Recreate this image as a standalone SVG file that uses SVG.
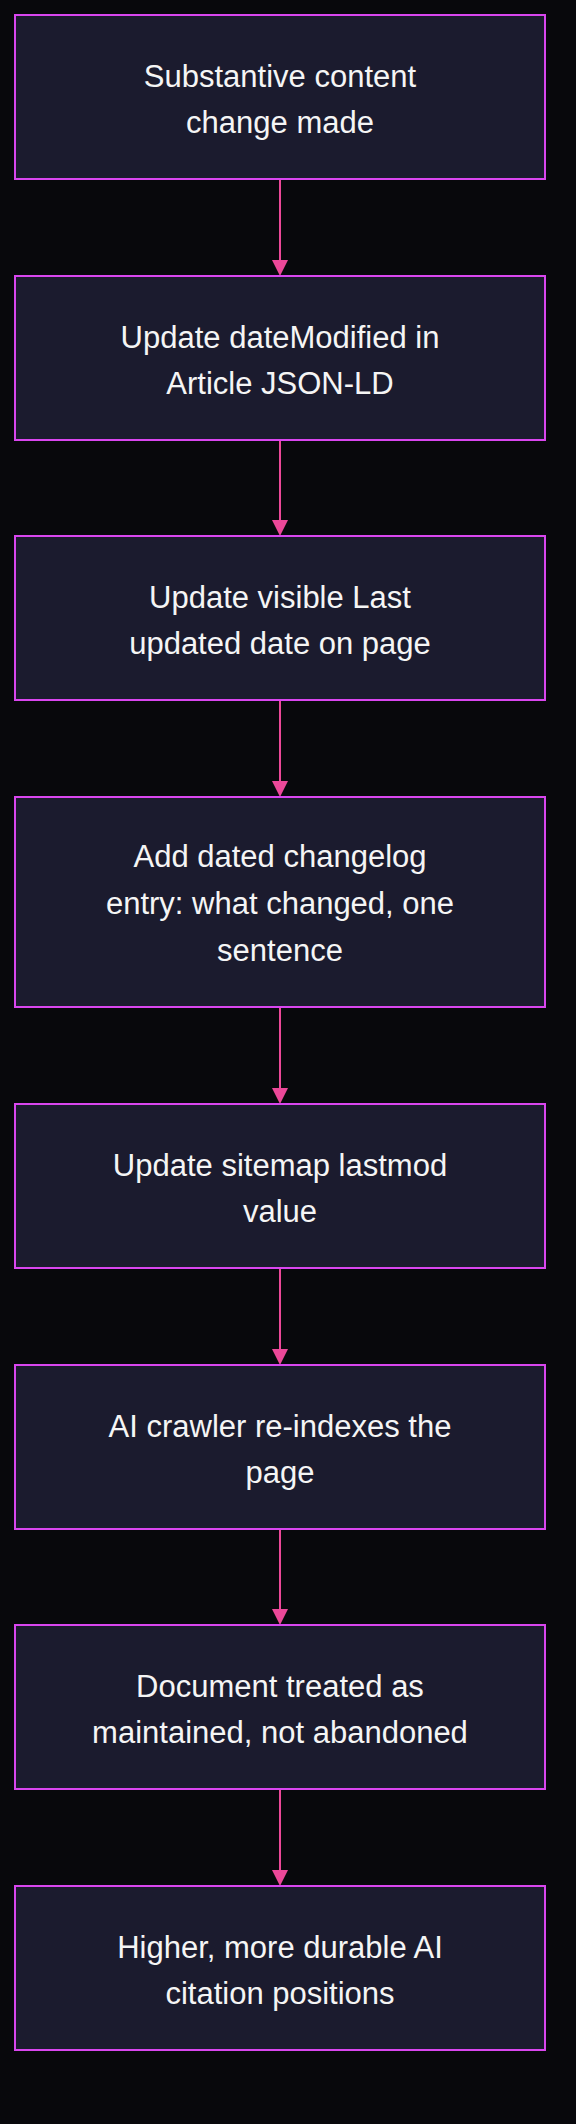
<svg xmlns="http://www.w3.org/2000/svg" width="576" height="2124" viewBox="0 0 576 2124">
<style>
.bg{fill:#08080c}
.node rect{fill:#1b1b2e;stroke:#d946ef;stroke-width:2}
.node text{fill:#f5f5f5;font-family:"Liberation Sans","Noto Sans",sans-serif;font-size:31px;text-anchor:middle}
.edge{stroke:#ec4899;stroke-width:2;fill:none}
.head{fill:#ec4899}
</style>
<rect class="bg" x="0" y="0" width="576" height="2124"/>
<g id="connectors">
<line class="edge" x1="280" y1="179" x2="280" y2="262"/><polygon class="head" points="272,260 288,260 280,276"/>
<line class="edge" x1="280" y1="440" x2="280" y2="522"/><polygon class="head" points="272,520 288,520 280,536"/>
<line class="edge" x1="280" y1="700" x2="280" y2="783"/><polygon class="head" points="272,781 288,781 280,797"/>
<line class="edge" x1="280" y1="1007" x2="280" y2="1090"/><polygon class="head" points="272,1088 288,1088 280,1104"/>
<line class="edge" x1="280" y1="1268" x2="280" y2="1351"/><polygon class="head" points="272,1349 288,1349 280,1365"/>
<line class="edge" x1="280" y1="1529" x2="280" y2="1611"/><polygon class="head" points="272,1609 288,1609 280,1625"/>
<line class="edge" x1="280" y1="1789" x2="280" y2="1872"/><polygon class="head" points="272,1870 288,1870 280,1886"/>
</g>
<g id="n1" class="node"><rect x="15" y="15" width="530" height="164"/><text x="280" y="87">Substantive content</text><text x="280" y="133">change made</text></g>
<g id="n2" class="node"><rect x="15" y="276" width="530" height="164"/><text x="280" y="348">Update dateModified in</text><text x="280" y="394">Article JSON-LD</text></g>
<g id="n3" class="node"><rect x="15" y="536" width="530" height="164"/><text x="280" y="608">Update visible Last</text><text x="280" y="654">updated date on page</text></g>
<g id="n4" class="node"><rect x="15" y="797" width="530" height="210"/><text x="280" y="867">Add dated changelog</text><text x="280" y="914">entry: what changed, one</text><text x="280" y="961">sentence</text></g>
<g id="n5" class="node"><rect x="15" y="1104" width="530" height="164"/><text x="280" y="1176">Update sitemap lastmod</text><text x="280" y="1222">value</text></g>
<g id="n6" class="node"><rect x="15" y="1365" width="530" height="164"/><text x="280" y="1437">AI crawler re-indexes the</text><text x="280" y="1483">page</text></g>
<g id="n7" class="node"><rect x="15" y="1625" width="530" height="164"/><text x="280" y="1697">Document treated as</text><text x="280" y="1743">maintained, not abandoned</text></g>
<g id="n8" class="node"><rect x="15" y="1886" width="530" height="164"/><text x="280" y="1958">Higher, more durable AI</text><text x="280" y="2004">citation positions</text></g>
</svg>
